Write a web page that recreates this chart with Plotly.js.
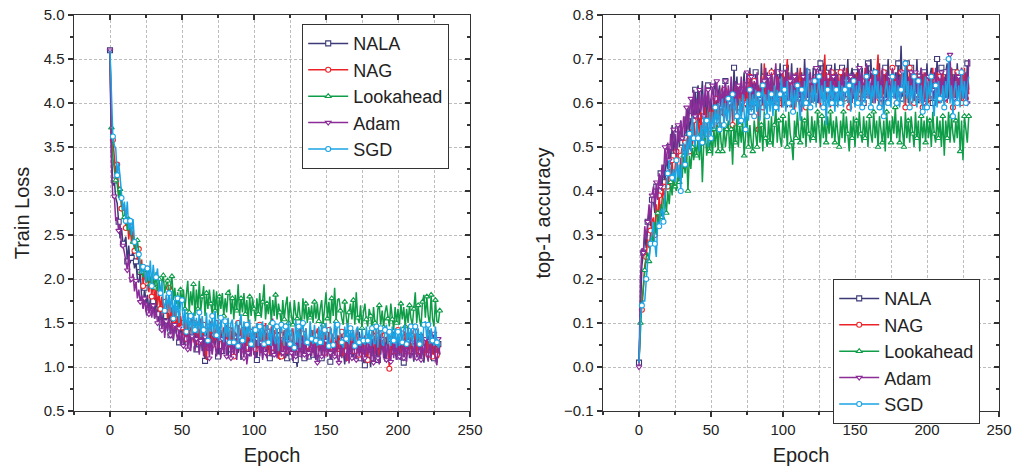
<!DOCTYPE html>
<html>
<head>
<meta charset="utf-8">
<script src="https://cdn.plot.ly/plotly-3.0.1.min.js"></script>
<style>html,body{margin:0;padding:0;background:#fff;}#chart{width:1026px;height:472px;}</style>
</head>
<body>
<div id="chart"></div>
<script>
const seriesNames = ["NALA", "NAG", "Lookahead", "Adam", "SGD"];

const lossNALA = [4.60,3.45,3.06,3.12,2.92,2.86,2.65,2.46,2.58,2.40,
2.42,2.48,2.20,2.38,2.18,2.24,2.32,2.12,2.20,2.00,
1.96,2.08,1.78,1.67,1.90,1.72,1.82,1.62,1.78,1.66,
1.75,1.55,1.82,1.60,1.50,1.72,1.45,1.62,1.48,1.58,
1.40,1.60,1.36,1.55,1.30,1.50,1.38,1.56,1.28,1.48,
1.35,1.50,1.25,1.45,1.32,1.52,1.22,1.40,1.30,1.46,
1.20,1.42,1.28,1.45,1.18,1.38,1.07,1.35,1.45,1.22,
1.40,1.15,1.36,1.25,1.44,1.12,1.32,1.42,1.18,1.35,
1.24,1.40,1.10,1.35,1.20,1.45,1.14,1.30,1.38,1.16,
1.34,1.08,1.30,1.42,1.15,1.28,1.38,1.12,1.26,1.40,
1.14,1.32,1.08,1.40,1.20,1.36,1.10,1.30,1.44,1.15,
1.28,1.10,1.38,1.18,1.35,1.12,1.30,1.42,1.08,1.25,
1.36,1.14,1.32,1.10,1.40,1.20,1.12,1.35,1.22,1.08,
1.00,1.34,1.15,1.38,1.20,1.10,1.36,1.18,1.12,1.32,
1.42,1.14,1.30,1.08,1.36,1.18,1.28,1.10,1.38,1.44,
1.20,1.12,1.34,1.06,1.38,1.15,1.30,1.10,1.36,1.18,
1.12,1.32,1.16,1.03,1.28,1.38,1.10,1.30,1.18,1.08,
1.34,1.12,1.28,1.40,1.10,1.26,1.06,1.02,1.24,1.36,
1.14,1.00,1.30,1.10,1.38,1.16,1.08,1.32,1.14,1.35,
1.18,1.06,1.36,1.22,1.10,1.32,1.14,1.40,1.18,1.08,
1.34,1.12,1.28,1.38,1.05,1.26,1.12,1.35,1.10,1.30,
1.18,1.06,1.36,1.12,1.30,1.10,1.34,1.20,1.05,1.28,
1.12,1.36,1.18,1.08,1.38,1.10,1.30,1.05,1.26,1.14];

const lossNAG = [4.60,3.65,3.58,3.35,3.20,3.30,2.98,3.05,2.80,2.82,
2.84,2.58,2.70,2.45,2.60,2.40,2.55,2.32,2.40,2.22,
2.34,2.05,2.22,1.92,2.08,1.95,2.12,1.85,2.02,1.80,
1.98,1.76,1.90,1.70,1.85,1.66,1.80,1.60,1.74,1.78,
1.55,1.90,1.52,1.68,1.48,1.65,1.42,1.60,1.40,1.58,
1.45,1.36,1.58,1.32,1.52,1.30,1.48,1.55,1.28,1.50,
1.35,1.50,1.28,1.55,1.32,1.48,1.24,1.08,1.46,1.30,
1.52,1.25,1.44,1.30,1.50,1.22,1.46,1.32,1.20,1.45,
1.30,1.48,1.22,1.42,1.18,1.45,1.12,1.40,1.25,1.50,
1.26,1.44,1.20,1.40,1.46,1.22,1.52,1.16,1.40,1.24,
1.46,1.20,1.40,1.22,1.48,1.16,1.42,1.25,1.50,1.20,
1.40,1.14,1.46,1.22,1.42,1.18,1.36,1.09,1.44,1.12,
1.34,1.42,1.18,1.46,1.22,1.38,1.14,1.44,1.24,1.18,
1.42,1.20,1.46,1.15,1.38,1.20,1.44,1.24,1.16,1.40,
1.22,1.42,1.14,1.36,1.44,1.18,1.38,1.22,1.46,1.16,
1.36,1.20,1.42,1.12,1.38,1.22,1.18,1.44,1.15,1.36,
1.20,1.40,1.12,1.36,1.18,1.07,1.34,1.40,1.15,1.42,
1.18,1.36,1.44,1.14,1.32,1.40,1.12,1.36,1.20,1.08,
1.38,1.16,1.34,1.42,1.14,1.36,1.20,1.12,1.40,1.22,
1.16,1.36,1.42,1.14,0.98,1.34,1.38,1.18,1.36,1.14,
1.42,1.20,1.16,1.38,1.12,1.40,1.18,1.47,1.14,1.36,
1.22,1.16,1.40,1.12,1.36,1.18,1.10,1.38,1.22,1.16,
1.36,1.14,1.42,1.20,1.12,1.38,1.22,1.14,1.10,1.24];

const lossLookahead = [4.60,3.72,3.38,3.22,3.12,3.08,2.92,3.02,2.88,2.72,
2.70,2.78,2.55,2.68,2.52,2.50,2.42,2.38,2.32,2.44,
2.28,2.18,2.08,2.02,2.15,2.10,1.96,2.12,1.94,2.06,
2.02,1.90,2.08,1.86,2.00,1.82,1.96,2.04,1.84,1.94,
1.98,1.80,1.92,2.03,1.76,1.90,1.70,1.85,1.66,1.88,
1.74,1.88,1.66,1.84,1.98,1.62,1.86,1.70,1.94,1.58,
1.88,1.66,1.98,1.64,1.80,1.92,1.58,1.84,1.66,1.88,
1.72,1.60,1.88,1.64,1.86,1.55,1.80,1.66,1.84,1.58,
1.78,1.62,1.84,1.88,1.60,1.78,1.54,1.82,1.64,1.94,
1.58,1.78,1.62,1.84,1.60,1.76,1.52,1.80,1.58,1.78,
1.66,1.52,1.78,1.60,1.84,1.56,1.74,1.94,1.54,1.72,
1.60,1.80,1.50,1.76,1.58,1.82,1.54,1.72,1.62,1.48,
1.76,1.54,1.70,1.80,1.50,1.74,1.58,1.48,1.76,1.60,
1.55,1.74,1.58,1.48,1.78,1.54,1.72,1.50,1.68,1.56,
1.70,1.50,1.74,1.55,1.72,1.52,1.66,1.76,1.48,1.70,
1.85,1.55,1.74,1.50,1.78,1.58,1.90,1.52,1.76,1.78,
1.64,1.55,1.48,1.74,1.58,1.44,1.62,1.72,1.54,1.76,
1.48,1.85,1.56,1.50,1.70,1.44,1.62,1.72,1.54,1.46,
1.66,1.58,1.42,1.68,1.50,1.40,1.66,1.70,1.48,1.64,
1.45,1.62,1.70,1.55,1.46,1.72,1.54,1.42,1.68,1.50,
1.66,1.48,1.72,1.54,1.68,1.46,1.66,1.50,1.70,1.55,
1.48,1.66,1.85,1.50,1.70,1.54,1.46,1.74,1.82,1.56,
1.80,1.58,1.48,1.82,1.55,1.46,1.76,1.52,1.50,1.64];

const lossAdam = [4.60,3.30,2.92,2.94,2.66,2.70,2.55,2.62,2.36,2.38,
2.30,2.18,2.10,2.28,1.96,2.00,2.06,1.86,1.98,1.78,
1.88,1.74,1.82,1.66,1.78,1.62,1.74,1.60,1.72,1.56,
1.70,1.55,1.66,1.50,1.50,1.62,1.42,1.56,1.33,1.52,
1.42,1.55,1.36,1.50,1.32,1.48,1.38,1.30,1.44,1.26,
1.40,1.24,1.38,1.44,1.20,1.38,1.18,1.35,1.42,1.18,
1.32,1.40,1.14,1.30,1.36,1.12,1.34,1.18,1.40,1.10,
1.32,1.14,1.36,1.20,1.12,1.34,1.18,1.10,1.32,1.15,
1.36,1.12,1.28,1.38,1.10,1.30,1.14,1.34,1.08,1.28,
1.34,1.12,1.30,1.10,1.36,1.03,1.16,1.32,1.12,1.34,
1.15,1.10,1.32,1.36,1.12,1.28,1.08,1.34,1.16,1.10,
1.30,1.36,1.12,1.55,1.14,1.30,1.10,1.28,1.34,1.12,
1.16,1.32,1.10,1.30,1.14,1.34,1.16,1.07,1.30,1.12,
1.32,1.12,1.28,1.10,1.34,1.14,1.30,1.08,1.16,1.32,
1.12,1.30,1.10,1.32,1.05,1.16,1.34,1.12,1.30,1.10,
1.30,1.12,1.34,1.16,1.08,1.30,1.12,1.32,1.10,1.05,
1.28,1.10,1.32,1.14,1.06,1.30,1.04,1.28,1.10,1.32,
1.14,1.08,1.30,1.12,1.32,1.06,1.28,1.10,1.30,1.14,
1.28,1.08,1.32,1.05,1.14,1.30,1.10,1.03,1.28,1.32,
1.10,1.28,1.08,1.30,1.14,1.06,1.32,1.10,1.28,1.08,
1.30,1.12,1.08,1.32,1.10,1.28,1.06,1.30,1.14,1.10,
1.28,1.08,1.32,1.10,1.14,1.30,1.08,1.28,1.10,1.32,
1.14,1.06,1.30,1.10,1.28,1.38,1.08,1.02,1.32,1.14];

const lossSGD = [4.60,3.95,3.62,3.52,3.48,3.18,3.32,3.16,2.92,2.78,
2.88,2.66,2.88,2.56,2.66,2.50,2.68,2.42,2.44,2.26,
2.28,2.10,2.06,2.14,2.07,1.96,2.12,1.98,2.21,1.92,
2.16,2.00,2.02,2.12,1.86,1.84,1.98,1.74,1.64,1.82,
1.66,1.84,1.62,1.86,1.55,1.76,1.56,1.78,1.50,1.74,
1.76,1.44,1.66,1.40,1.62,1.42,1.58,1.36,1.62,1.42,
1.56,1.38,1.62,1.34,1.58,1.42,1.36,1.62,1.30,1.54,
1.40,1.58,1.34,1.64,1.36,1.54,1.30,1.56,1.40,1.28,
1.52,1.34,1.56,1.28,1.50,1.54,1.28,1.46,1.52,1.24,
1.50,1.60,1.30,1.52,1.28,1.48,1.34,1.54,1.26,1.46,
1.22,1.42,1.50,1.24,1.46,1.30,1.52,1.26,1.44,1.48,
1.28,1.44,1.24,1.50,1.32,1.26,1.46,1.18,1.40,1.48,
1.32,1.24,1.46,1.28,1.52,1.26,1.44,1.30,1.22,1.54,
1.28,1.46,1.22,1.42,1.50,1.26,1.44,1.28,1.24,1.52,
1.32,1.26,1.48,1.30,1.24,1.46,1.28,1.50,1.25,1.42,
1.50,1.28,1.24,1.46,1.32,1.25,1.52,1.30,1.48,1.50,
1.34,1.28,1.22,1.46,1.32,1.50,1.26,1.44,1.30,1.42,
1.24,1.42,1.46,1.28,1.24,1.44,1.30,1.25,1.46,1.30,
1.42,1.24,1.44,1.28,1.26,1.46,1.22,1.40,1.44,1.26,
1.24,1.42,1.48,1.26,1.40,1.24,1.46,1.30,1.44,1.22,
1.40,1.24,1.46,1.28,1.42,1.48,1.26,1.44,1.28,1.46,
1.24,1.42,1.46,1.28,1.44,1.26,1.40,1.24,1.48,1.52,
1.32,1.48,1.26,1.44,1.30,1.24,1.46,1.28,1.22,1.26];

const accNALA = [0.01,0.14,0.23,0.26,0.30,0.27,0.33,0.36,0.32,0.38,
0.38,0.35,0.41,0.38,0.43,0.44,0.40,0.46,0.42,0.48,
0.45,0.50,0.46,0.55,0.48,0.53,0.47,0.54,0.50,0.56,
0.51,0.49,0.57,0.52,0.59,0.53,0.57,0.61,0.54,0.63,
0.57,0.64,0.55,0.61,0.65,0.57,0.62,0.56,0.64,0.58,
0.61,0.55,0.63,0.65,0.57,0.62,0.64,0.58,0.63,0.59,
0.65,0.57,0.63,0.59,0.64,0.58,0.68,0.60,0.66,0.59,
0.64,0.57,0.63,0.67,0.59,0.64,0.60,0.68,0.58,0.65,
0.61,0.67,0.58,0.64,0.60,0.69,0.61,0.66,0.59,0.67,
0.63,0.59,0.68,0.61,0.66,0.58,0.67,0.62,0.69,0.60,
0.65,0.60,0.68,0.59,0.67,0.62,0.69,0.60,0.66,0.61,
0.68,0.62,0.59,0.67,0.61,0.70,0.62,0.67,0.60,0.66,
0.61,0.68,0.62,0.67,0.60,0.66,0.69,0.61,0.69,0.62,
0.67,0.60,0.68,0.62,0.66,0.60,0.69,0.62,0.67,0.60,
0.65,0.68,0.61,0.67,0.62,0.70,0.60,0.66,0.68,0.61,
0.67,0.62,0.69,0.61,0.66,0.68,0.60,0.67,0.62,0.69,
0.61,0.70,0.63,0.68,0.61,0.67,0.62,0.69,0.60,0.67,
0.62,0.68,0.61,0.70,0.63,0.60,0.68,0.62,0.67,0.61,
0.69,0.63,0.73,0.61,0.67,0.62,0.69,0.60,0.66,0.68,
0.61,0.67,0.62,0.70,0.60,0.66,0.68,0.61,0.67,0.62,
0.69,0.61,0.66,0.68,0.60,0.67,0.62,0.70,0.61,0.66,
0.68,0.62,0.60,0.67,0.69,0.61,0.66,0.68,0.62,0.67,
0.61,0.69,0.63,0.60,0.68,0.62,0.67,0.61,0.69,0.63];

const accNAG = [0.01,0.12,0.13,0.19,0.23,0.25,0.29,0.27,0.31,0.33,
0.34,0.30,0.37,0.33,0.39,0.34,0.38,0.41,0.37,0.43,
0.41,0.45,0.42,0.47,0.41,0.46,0.49,0.45,0.42,0.48,
0.50,0.45,0.51,0.47,0.53,0.49,0.54,0.50,0.56,0.51,
0.55,0.57,0.52,0.58,0.51,0.56,0.59,0.53,0.57,0.60,
0.54,0.59,0.55,0.61,0.56,0.60,0.55,0.62,0.57,0.63,
0.58,0.56,0.62,0.58,0.63,0.55,0.61,0.64,0.57,0.64,
0.59,0.63,0.58,0.65,0.60,0.64,0.59,0.66,0.61,0.59,
0.65,0.60,0.64,0.54,0.63,0.66,0.59,0.69,0.62,0.60,
0.65,0.61,0.67,0.59,0.64,0.60,0.66,0.61,0.65,0.59,
0.67,0.61,0.65,0.70,0.60,0.66,0.59,0.64,0.58,0.67,
0.61,0.65,0.68,0.60,0.66,0.62,0.59,0.67,0.61,0.65,
0.60,0.66,0.62,0.68,0.61,0.65,0.59,0.67,0.62,0.71,
0.61,0.66,0.62,0.59,0.67,0.61,0.65,0.60,0.66,0.62,
0.67,0.60,0.65,0.61,0.68,0.62,0.59,0.66,0.61,0.65,
0.60,0.67,0.62,0.66,0.59,0.65,0.61,0.68,0.62,0.66,
0.61,0.65,0.60,0.67,0.62,0.66,0.71,0.61,0.65,0.59,
0.67,0.62,0.66,0.60,0.65,0.61,0.68,0.62,0.66,0.60,
0.65,0.61,0.67,0.62,0.66,0.59,0.65,0.61,0.68,0.62,
0.66,0.60,0.65,0.67,0.61,0.66,0.62,0.59,0.67,0.61,
0.65,0.60,0.66,0.62,0.68,0.61,0.65,0.67,0.60,0.66,
0.62,0.67,0.61,0.65,0.60,0.66,0.62,0.68,0.59,0.65,
0.61,0.67,0.62,0.66,0.60,0.65,0.68,0.61,0.66,0.62];

const accLookahead = [0.01,0.10,0.15,0.18,0.22,0.25,0.26,0.24,0.29,0.30,
0.28,0.33,0.30,0.35,0.32,0.37,0.34,0.38,0.39,0.35,
0.40,0.37,0.42,0.39,0.44,0.41,0.40,0.45,0.42,0.46,
0.43,0.48,0.44,0.49,0.40,0.48,0.45,0.50,0.47,0.51,
0.48,0.52,0.47,0.53,0.42,0.51,0.54,0.48,0.52,0.49,
0.53,0.48,0.54,0.50,0.55,0.49,0.56,0.51,0.49,0.55,
0.50,0.54,0.56,0.49,0.54,0.46,0.55,0.51,0.57,0.50,
0.55,0.51,0.56,0.48,0.54,0.57,0.50,0.55,0.51,0.49,
0.56,0.52,0.50,0.57,0.51,0.55,0.49,0.58,0.52,0.50,
0.56,0.51,0.57,0.50,0.55,0.59,0.51,0.56,0.52,0.50,
0.57,0.52,0.56,0.50,0.58,0.53,0.51,0.47,0.56,0.52,
0.58,0.53,0.51,0.57,0.52,0.56,0.50,0.59,0.53,0.51,
0.57,0.52,0.56,0.51,0.58,0.53,0.50,0.57,0.52,0.56,
0.51,0.57,0.53,0.58,0.52,0.56,0.51,0.57,0.53,0.50,
0.56,0.52,0.58,0.51,0.57,0.53,0.49,0.56,0.52,0.57,
0.50,0.56,0.52,0.58,0.53,0.51,0.57,0.52,0.56,0.50,
0.57,0.53,0.51,0.58,0.52,0.56,0.50,0.57,0.53,0.51,
0.56,0.49,0.58,0.52,0.56,0.51,0.57,0.53,0.59,0.52,
0.56,0.51,0.57,0.53,0.50,0.58,0.52,0.56,0.51,0.57,
0.53,0.50,0.58,0.52,0.56,0.49,0.57,0.52,0.56,0.51,
0.57,0.52,0.56,0.50,0.58,0.53,0.51,0.57,0.52,0.56,
0.50,0.57,0.48,0.56,0.52,0.58,0.51,0.57,0.53,0.51,
0.56,0.52,0.58,0.49,0.56,0.47,0.57,0.53,0.51,0.57];

const accAdam = [0.00,0.20,0.27,0.26,0.32,0.29,0.33,0.37,0.33,0.39,
0.41,0.36,0.42,0.38,0.44,0.41,0.46,0.43,0.50,0.46,
0.51,0.47,0.53,0.49,0.54,0.50,0.48,0.55,0.51,0.56,
0.52,0.57,0.53,0.59,0.54,0.58,0.61,0.55,0.63,0.57,
0.61,0.56,0.63,0.58,0.62,0.57,0.64,0.59,0.63,0.58,
0.62,0.64,0.59,0.63,0.65,0.58,0.63,0.59,0.64,0.60,
0.65,0.59,0.64,0.60,0.66,0.61,0.59,0.65,0.60,0.64,
0.61,0.66,0.60,0.65,0.61,0.67,0.62,0.59,0.66,0.61,
0.65,0.60,0.67,0.62,0.61,0.66,0.60,0.65,0.68,0.61,
0.66,0.62,0.67,0.60,0.65,0.69,0.61,0.66,0.62,0.67,
0.61,0.66,0.62,0.68,0.60,0.65,0.67,0.61,0.66,0.62,
0.67,0.61,0.65,0.58,0.66,0.62,0.68,0.61,0.65,0.67,
0.62,0.66,0.61,0.68,0.63,0.60,0.67,0.62,0.66,0.61,
0.67,0.63,0.61,0.68,0.62,0.66,0.60,0.67,0.63,0.61,
0.66,0.62,0.68,0.61,0.65,0.67,0.62,0.66,0.60,0.67,
0.62,0.66,0.61,0.68,0.63,0.67,0.61,0.66,0.69,0.62,
0.66,0.61,0.67,0.63,0.60,0.67,0.62,0.66,0.61,0.68,
0.63,0.61,0.67,0.62,0.66,0.60,0.68,0.63,0.61,0.67,
0.62,0.66,0.61,0.67,0.63,0.68,0.62,0.66,0.61,0.67,
0.63,0.61,0.67,0.62,0.66,0.61,0.68,0.63,0.60,0.67,
0.62,0.66,0.61,0.67,0.63,0.61,0.68,0.62,0.66,0.60,
0.67,0.62,0.66,0.61,0.68,0.63,0.71,0.62,0.66,0.61,
0.67,0.62,0.66,0.60,0.68,0.63,0.61,0.67,0.60,0.70];

const accSGD = [0.01,0.11,0.14,0.15,0.15,0.20,0.24,0.25,0.28,0.30,
0.33,0.28,0.25,0.33,0.32,0.35,0.36,0.33,0.39,0.41,
0.44,0.47,0.44,0.43,0.45,0.42,0.47,0.43,0.46,0.40,
0.49,0.51,0.46,0.52,0.48,0.53,0.49,0.57,0.52,0.50,
0.56,0.52,0.49,0.55,0.51,0.57,0.52,0.56,0.50,0.58,
0.52,0.58,0.54,0.59,0.55,0.60,0.54,0.59,0.61,0.55,
0.60,0.56,0.61,0.55,0.60,0.62,0.56,0.61,0.57,0.55,
0.61,0.56,0.62,0.57,0.54,0.61,0.56,0.63,0.58,0.62,
0.57,0.63,0.58,0.62,0.56,0.61,0.64,0.58,0.62,0.57,
0.63,0.58,0.62,0.57,0.64,0.59,0.63,0.58,0.62,0.66,
0.59,0.63,0.58,0.65,0.60,0.59,0.64,0.58,0.63,0.59,
0.64,0.60,0.56,0.63,0.59,0.65,0.60,0.68,0.61,0.59,
0.64,0.60,0.65,0.59,0.63,0.66,0.60,0.64,0.59,0.65,
0.55,0.63,0.59,0.65,0.60,0.64,0.58,0.63,0.59,0.65,
0.60,0.64,0.59,0.63,0.66,0.60,0.64,0.58,0.63,0.65,
0.59,0.64,0.60,0.65,0.61,0.59,0.64,0.60,0.66,0.61,
0.65,0.59,0.64,0.60,0.67,0.61,0.65,0.59,0.64,0.60,
0.57,0.63,0.65,0.60,0.64,0.59,0.66,0.61,0.65,0.60,
0.64,0.59,0.63,0.67,0.60,0.69,0.61,0.65,0.59,0.64,
0.60,0.66,0.61,0.59,0.65,0.60,0.64,0.58,0.63,0.66,
0.59,0.65,0.61,0.66,0.60,0.57,0.64,0.59,0.65,0.61,
0.60,0.64,0.59,0.65,0.61,0.70,0.60,0.64,0.57,0.63,
0.65,0.60,0.64,0.59,0.67,0.61,0.65,0.60,0.64,0.66];

const epochs = lossNALA.map((_, i) => i);

const colors = ["#3d3a78", "#ec2228", "#0f9d48", "#8b2c98", "#1aa4e4"];
const symbols = ["square", "circle", "triangle-up", "triangle-down", "circle"];
const lossData = [lossNALA, lossNAG, lossLookahead, lossAdam, lossSGD];
const accData = [accNALA, accNAG, accLookahead, accAdam, accSGD];

const FONT = "Liberation Sans, Arial, sans-serif";
const traces = [];
function addSet(data, xa, ya, legendId) {
  data.forEach((ys, k) => {
    traces.push({
      type: "scatter", mode: "lines+markers",
      x: epochs, y: ys, name: seriesNames[k],
      xaxis: xa, yaxis: ya, legend: legendId,
      line: {color: colors[k], width: 1.5},
      marker: {symbol: symbols[k], size: 5, color: "#ffffff", maxdisplayed: 80,
               line: {color: colors[k], width: 1.1}}
    });
  });
}
addSet(lossData, "x", "y", "legend");
addSet(accData, "x2", "y2", "legend2");
// empty helper traces so the inner-tick frame axes get drawn
traces.push({type: "scatter", x: [], y: [], xaxis: "x3", yaxis: "y3", showlegend: false, hoverinfo: "skip"});
traces.push({type: "scatter", x: [], y: [], xaxis: "x4", yaxis: "y4", showlegend: false, hoverinfo: "skip"});

const L = 74, R = 27, T = 15, B = 61, W = 1026, H = 472;
const PW = W - L - R;
const d1 = [0, (470 - L) / PW];
const d2 = [(603 - L) / PW, 1];

const gridCol = "#bdbdbd";
const gridDash = "3px,2px";
function xBase(domain, anchor) {
  return {
    domain: domain, anchor: anchor, range: [-25, 250], tick0: 0, dtick: 50,
    ticks: "outside", ticklen: 5, tickwidth: 1.2, tickcolor: "#333",
    showline: true, linecolor: "#333", linewidth: 1.4, mirror: true,
    showgrid: true, gridcolor: gridCol, griddash: gridDash, gridwidth: 1,
    zeroline: false,
    minor: {dtick: 25, ticks: "outside", ticklen: 3, tickcolor: "#333", showgrid: true, gridcolor: gridCol, griddash: gridDash, gridwidth: 1},
    tickfont: {family: FONT, size: 15, color: "#222"},
    title: {text: "Epoch", font: {family: FONT, size: 20, color: "#222"}, standoff: 10}
  };
}
function yBase(range, dtick, minorDt, anchor, title) {
  return {
    domain: [0, 1], anchor: anchor, range: range, tick0: 0, dtick: dtick, tickformat: ".1f",
    ticks: "outside", ticklen: 5, tickwidth: 1.2, tickcolor: "#333",
    showline: true, linecolor: "#333", linewidth: 1.4, mirror: true,
    showgrid: true, gridcolor: gridCol, griddash: gridDash, gridwidth: 1,
    zeroline: false,
    minor: {dtick: minorDt, ticks: "outside", ticklen: 3, tickcolor: "#333", showgrid: false},
    tickfont: {family: FONT, size: 15, color: "#222"},
    title: {text: title, font: {family: FONT, size: 20, color: "#222"}, standoff: 8}
  };
}
function xFrame(over, anchor) {
  return {overlaying: over, anchor: anchor, side: "top", range: [-25, 250], tick0: 0, dtick: 50,
    ticks: "inside", ticklen: 5, tickwidth: 1.2, tickcolor: "#333", showticklabels: false,
    showgrid: false, zeroline: false, showline: false,
    minor: {dtick: 25, ticks: "inside", ticklen: 3, tickcolor: "#333", showgrid: false}};
}
function yFrame(over, anchor, range, dtick, minorDt) {
  return {overlaying: over, anchor: anchor, side: "right", range: range, tick0: 0, dtick: dtick,
    ticks: "inside", ticklen: 5, tickwidth: 1.2, tickcolor: "#333", showticklabels: false,
    showgrid: false, zeroline: false, showline: false,
    minor: {dtick: minorDt, ticks: "inside", ticklen: 3, tickcolor: "#333", showgrid: false}};
}

const legendStyle = {
  xanchor: "left", yanchor: "top", bgcolor: "#ffffff",
  bordercolor: "#333", borderwidth: 1.2,
  font: {family: FONT, size: 18, color: "#222"},
  tracegroupgap: 0, itemwidth: 40
};

const layout = {
  width: W, height: H,
  margin: {l: L, r: R, t: T, b: B},
  paper_bgcolor: "#ffffff", plot_bgcolor: "#ffffff",
  showlegend: true,
  font: {family: FONT, color: "#222"},
  xaxis: xBase(d1, "y"),
  yaxis: yBase([0.5, 5.0], 0.5, 0.25, "x", "Train Loss"),
  xaxis2: xBase(d2, "y2"),
  yaxis2: yBase([-0.1, 0.8], 0.1, 0.05, "x2", "top-1 accuracy"),
  xaxis3: xFrame("x", "y"),
  yaxis3: yFrame("y", "x", [0.5, 5.0], 0.5, 0.25),
  xaxis4: xFrame("x2", "y2"),
  yaxis4: yFrame("y2", "x2", [-0.1, 0.8], 0.1, 0.05),
  legend: Object.assign({}, legendStyle, {x: (302 - L) / PW, y: 1 - (24 - T) / (H - T - B)}),
  legend2: Object.assign({}, legendStyle, {x: (833 - L) / PW, y: 1 - (279 - T) / (H - T - B)})
};

Plotly.newPlot("chart", traces, layout, {displayModeBar: false, staticPlot: true});
</script>
</body>
</html>
